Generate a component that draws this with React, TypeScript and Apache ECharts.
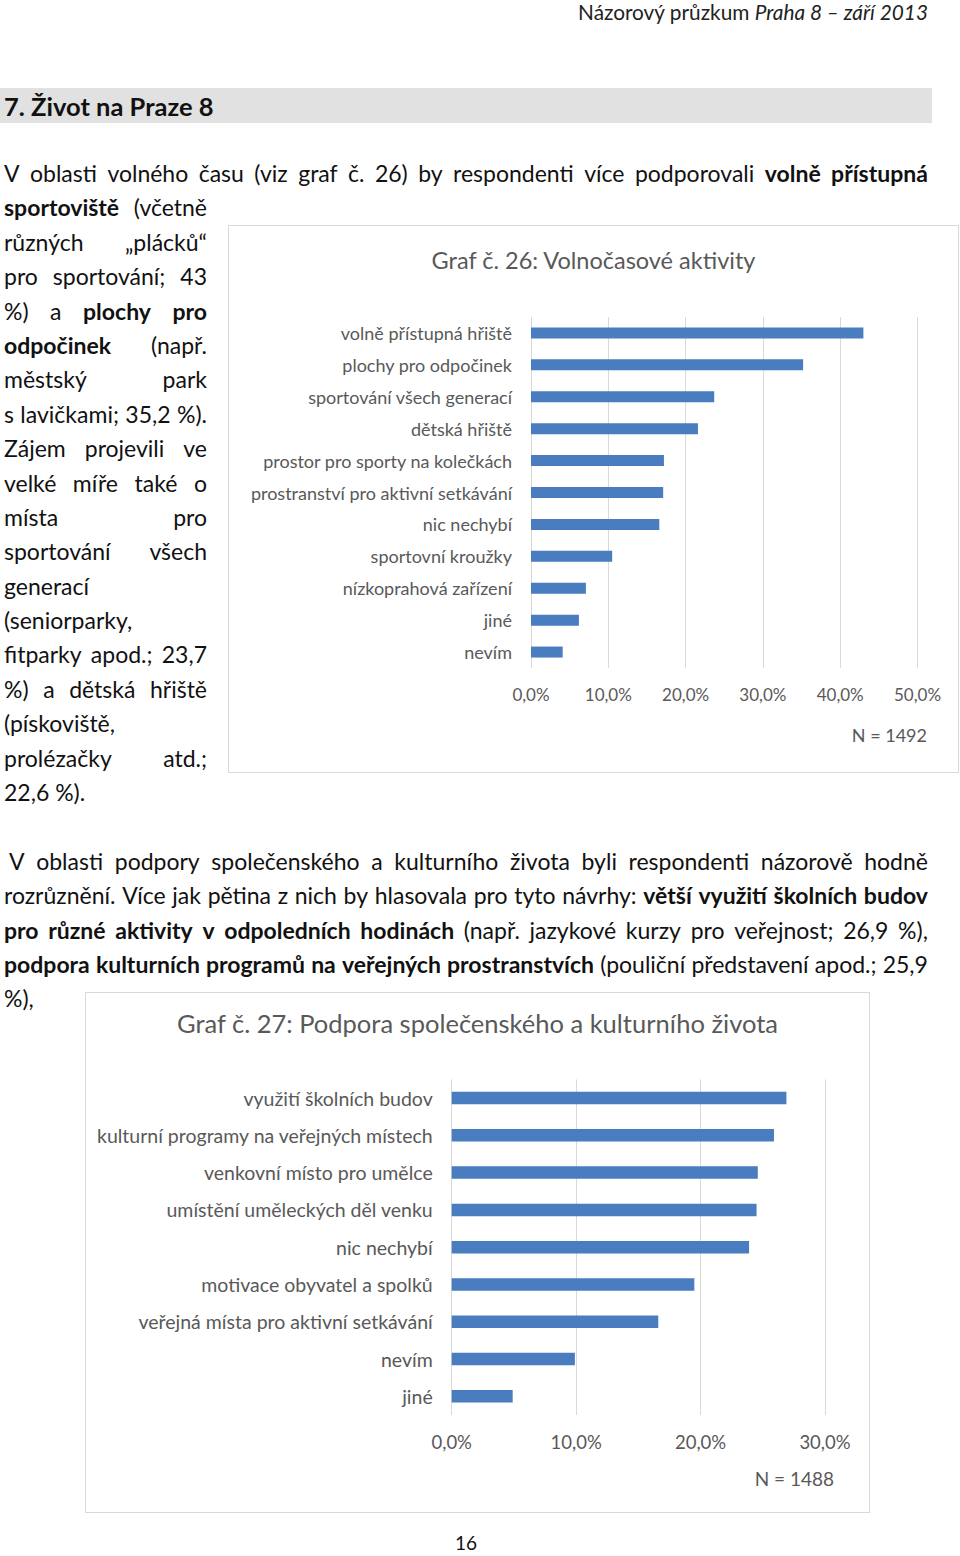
import React, { useEffect, useRef } from "react";
import * as echarts from "echarts";

// ---------- DATA ----------
const chart1Title = "Graf č. 26: Volnočasové aktivity";
const chart1Categories = [
  "volně přístupná hřiště",
  "plochy pro odpočinek",
  "sportování všech generací",
  "dětská hřiště",
  "prostor pro sporty na kolečkách",
  "prostranství pro aktivní setkávání",
  "nic nechybí",
  "sportovní kroužky",
  "nízkoprahová zařízení",
  "jiné",
  "nevím",
];
const chart1Values = [43.0, 35.2, 23.7, 21.6, 17.2, 17.1, 16.6, 10.5, 7.1, 6.2, 4.1];
const chart1Max = 50;
const chart1Note = "N = 1492";

const chart2Title = "Graf č. 27: Podpora společenského a kulturního života";
const chart2Categories = [
  "využití školních budov",
  "kulturní programy na veřejných místech",
  "venkovní místo pro umělce",
  "umístění uměleckých děl venku",
  "nic nechybí",
  "motivace obyvatel a spolků",
  "veřejná místa pro aktivní setkávání",
  "nevím",
  "jiné",
];
const chart2Values = [26.9, 25.9, 24.6, 24.5, 23.9, 19.5, 16.6, 9.9, 4.9];
const chart2Max = 30;
const chart2Note = "N = 1488";

const tickInterval = 10;

// ---------- STYLE ----------
const GRAY = "#595959";
const BAR = "#4a7dbf";
const GRID = "#d9d9d9";
const FONT = "Lato, 'Noto Sans', sans-serif";

const pct = (v: number) => v.toFixed(1).replace(".", ",") + "%";

type ChartCfg = {
  title: string;
  titleSize: number;
  titleTop: number;
  categories: string[];
  values: number[];
  max: number;
  note: string;
  noteSize: number;
  noteX: number;
  noteY: number;
  grid: { left: number; top: number; width: number; height: number };
  labelSize: number;
  valSize: number;
  barWidth: number;
  catMargin: number;
  valMargin: number;
};

function buildOption(c: ChartCfg) {
  return {
    animation: false,
    title: {
      text: c.title,
      left: "center",
      top: c.titleTop,
      padding: 0,
      textStyle: { fontFamily: FONT, fontSize: c.titleSize, fontWeight: "normal", color: GRAY },
    },
    grid: { ...c.grid },
    xAxis: {
      type: "value",
      min: 0,
      max: c.max,
      interval: tickInterval,
      axisLine: { show: false },
      axisTick: { show: false },
      splitLine: { show: true, lineStyle: { color: GRID, width: 1 } },
      axisLabel: {
        margin: c.valMargin,
        fontFamily: FONT,
        fontSize: c.valSize,
        color: GRAY,
        formatter: (v: number) => pct(v),
      },
    },
    yAxis: {
      type: "category",
      inverse: true,
      data: c.categories,
      axisLine: { show: false },
      axisTick: { show: false },
      axisLabel: { margin: c.catMargin, fontFamily: FONT, fontSize: c.labelSize, color: GRAY },
    },
    series: [
      {
        type: "bar",
        data: c.values,
        barWidth: c.barWidth,
        itemStyle: { color: BAR },
      },
    ],
    graphic: [
      {
        type: "text",
        x: c.noteX,
        y: c.noteY,
        style: {
          text: c.note,
          fontFamily: FONT,
          fontSize: c.noteSize,
          fill: GRAY,
          textAlign: "right",
          textVerticalAlign: "middle",
        },
      },
    ],
  };
}

function Chart({ left, top, width, height, cfg }: { left: number; top: number; width: number; height: number; cfg: ChartCfg }) {
  const ref = useRef<HTMLDivElement>(null);
  useEffect(() => {
    if (!ref.current) return;
    const chart = echarts.init(ref.current, undefined, { renderer: "svg" });
    chart.setOption(buildOption(cfg));
    return () => chart.dispose();
  }, []);
  return (
    <>
      <div
        style={{
          position: "absolute",
          left,
          top,
          width,
          height,
          boxSizing: "border-box",
          border: "1.5px solid #d9d9d9",
          background: "#fff",
        }}
      />
      <div ref={ref} style={{ position: "absolute", left, top, width, height }} />
    </>
  );
}

type Seg = [string, boolean?];

function TLine({ x, y, w, segs, justify = true }: { x: number; y: number; w: number; segs: Seg[]; justify?: boolean }) {
  const base: React.CSSProperties = {
    position: "absolute",
    left: x,
    top: y - 17,
    width: w,
    height: 34,
    lineHeight: "34px",
    fontFamily: FONT,
    fontSize: 23,
    color: "#111",
    whiteSpace: "nowrap",
  };
  if (justify) {
    const words: { t: string; b: boolean }[] = [];
    segs.forEach(([t, b]) =>
      t
        .split(" ")
        .filter(Boolean)
        .forEach((wd) => words.push({ t: wd, b: !!b }))
    );
    return (
      <div style={{ ...base, display: "flex", justifyContent: "space-between" }}>
        {words.map((wd, i) => (
          <span key={i} style={{ fontWeight: wd.b ? 700 : 400 }}>
            {wd.t}
          </span>
        ))}
      </div>
    );
  }
  return (
    <div style={base}>
      {segs.map(([t, b], i) => (
        <span key={i} style={{ fontWeight: b ? 700 : 400 }}>
          {t}
        </span>
      ))}
    </div>
  );
}

const para1: { segs: Seg[]; full?: boolean; justify?: boolean }[] = [
  { segs: [["V oblasti volného času (viz graf č. 26) by respondenti více podporovali "], ["volně přístupná", true]], full: true },
  { segs: [["sportoviště", true], [" (včetně"]] },
  { segs: [["různých „plácků“"]] },
  { segs: [["pro sportování; 43"]] },
  { segs: [["%) a "], ["plochy pro", true]] },
  { segs: [["odpočinek", true], [" (např."]] },
  { segs: [["městský park"]] },
  { segs: [["s lavičkami; 35,2 %)."]] },
  { segs: [["Zájem projevili ve"]] },
  { segs: [["velké míře také o"]] },
  { segs: [["místa pro"]] },
  { segs: [["sportování všech"]] },
  { segs: [["generací"]], justify: false },
  { segs: [["(seniorparky,"]], justify: false },
  { segs: [["fitparky apod.; 23,7"]] },
  { segs: [["%) a dětská hřiště"]] },
  { segs: [["(pískoviště,"]], justify: false },
  { segs: [["prolézačky atd.;"]] },
  { segs: [["22,6 %)."]], justify: false },
];

const para2: { segs: Seg[]; justify?: boolean; x?: number }[] = [
  { segs: [["V oblasti podpory společenského a kulturního života byli respondenti názorově hodně"]], x: 9 },
  { segs: [["rozrůznění. Více jak pětina z nich by hlasovala pro tyto návrhy: "], ["větší využití školních budov", true]] },
  { segs: [["pro různé aktivity v odpoledních hodinách", true], [" (např. jazykové kurzy pro veřejnost; 26,9 %),"]] },
  { segs: [["podpora kulturních programů na veřejných prostranstvích", true], [" (pouliční představení apod.; 25,9"]] },
  { segs: [["%),"]], justify: false },
];

const cfg1: ChartCfg = {
  title: chart1Title,
  titleSize: 23.5,
  titleTop: 23,
  categories: chart1Categories,
  values: chart1Values,
  max: chart1Max,
  note: chart1Note,
  noteSize: 18,
  noteX: 699,
  noteY: 510,
  grid: { left: 303, top: 92, width: 386.5, height: 351 },
  labelSize: 18,
  valSize: 17,
  barWidth: 11,
  catMargin: 19,
  valMargin: 18,
};

const cfg2: ChartCfg = {
  title: chart2Title,
  titleSize: 25.5,
  titleTop: 18,
  categories: chart2Categories,
  values: chart2Values,
  max: chart2Max,
  note: chart2Note,
  noteSize: 19,
  noteX: 749,
  noteY: 486,
  grid: { left: 366.7, top: 87.4, width: 373.3, height: 335.6 },
  labelSize: 19.5,
  valSize: 18.5,
  barWidth: 12.5,
  catMargin: 19,
  valMargin: 17,
};

export default function App() {
  return (
    <div style={{ position: "absolute", left: 0, top: 0, width: 960, height: 1556, background: "#fff", overflow: "hidden" }}>
      {/* header */}
      <div
        style={{
          position: "absolute",
          right: 32,
          top: 0,
          lineHeight: "24px",
          fontFamily: FONT,
          fontSize: 20.8,
          color: "#222",
          whiteSpace: "nowrap",
        }}
      >
        Názorový průzkum <i>Praha 8 – září 2013</i>
      </div>
      {/* section heading */}
      <div
        style={{
          position: "absolute",
          left: 0,
          top: 88,
          width: 932,
          height: 35,
          background: "#e1e1e1",
        }}
      />
      <div
        style={{
          position: "absolute",
          left: 4,
          top: 88,
          height: 35,
          lineHeight: "36px",
          fontFamily: FONT,
          fontSize: 25.5,
          fontWeight: 700,
          color: "#111",
          whiteSpace: "nowrap",
        }}
      >
        7. Život na Praze 8
      </div>

      {para1.map((l, i) => (
        <TLine
          key={"p1" + i}
          x={4}
          y={173 + i * 34.39}
          w={l.full ? 924 : 203}
          segs={l.segs}
          justify={l.justify !== false}
        />
      ))}

      {para2.map((l, i) => (
        <TLine
          key={"p2" + i}
          x={l.x ?? 4}
          y={861 + i * 34.25}
          w={928 - (l.x ?? 4)}
          segs={l.segs}
          justify={l.justify !== false}
        />
      ))}

      <Chart left={228} top={225} width={731} height={548} cfg={cfg1} />
      <Chart left={85} top={992} width={785} height={521} cfg={cfg2} />

      <div
        style={{
          position: "absolute",
          left: 436,
          width: 60,
          textAlign: "center",
          top: 1534,
          lineHeight: "18px",
          fontFamily: FONT,
          fontSize: 19,
          color: "#111",
        }}
      >
        16
      </div>
    </div>
  );
}
